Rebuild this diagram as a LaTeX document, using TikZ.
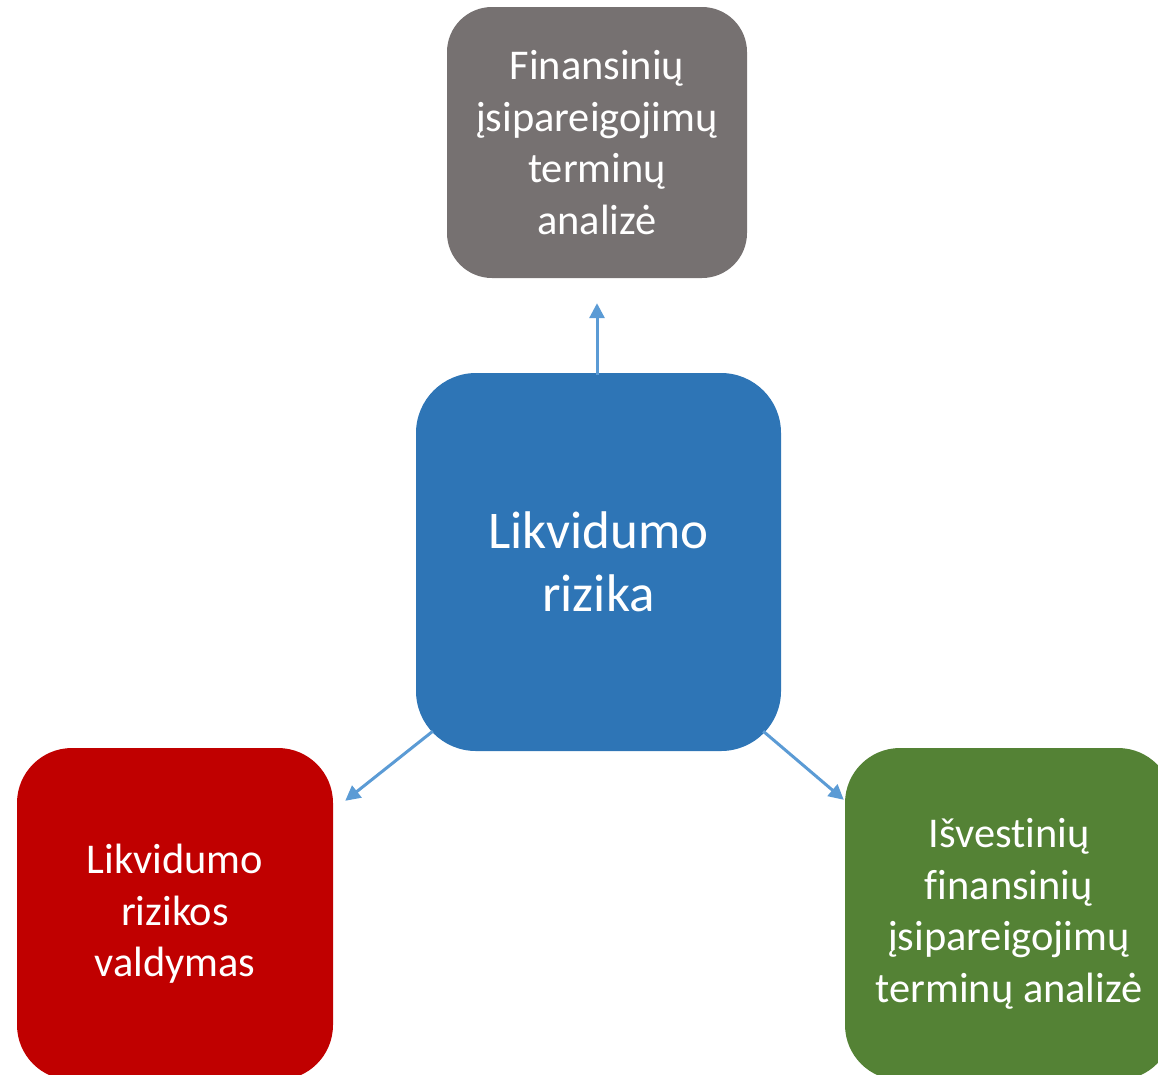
\documentclass[tikz,border=0pt]{standalone}
\usepackage{fontspec}
\setmainfont[RawFeature={-liga;-dlig}]{Carlito}
\usetikzlibrary{arrows.meta,calc}
\definecolor{cgray}{HTML}{767171}
\definecolor{cblue}{HTML}{2E75B6}
\definecolor{cred}{HTML}{C00000}
\definecolor{cgreen}{HTML}{548235}
\definecolor{carrow}{HTML}{5B9BD5}
\begin{document}
\begin{tikzpicture}[x=1pt,y=-1pt,
  box/.style={rectangle,inner sep=0pt,text=white,align=center},
  small/.style={font=\fontsize{42.4}{51.5}\selectfont},
  big/.style={font=\fontsize{53}{63}\selectfont},
  conn/.style={draw=carrow,line width=3pt,-{Triangle[length=15pt,width=15pt]}}]
\useasboundingbox (0,0) rectangle (1158,1074);
\clip (0,0) rectangle (1158,1074);
\node[box,small,fill=cgray,rounded corners=45pt,minimum width=300pt,minimum height=271pt] (g) at (597,142.5)
  {Finansinių\\įsipareigojimų\\terminų\\analizė};
\node[box,big,fill=cblue,rounded corners=60pt,minimum width=365pt,minimum height=378pt] (c) at (598.5,562)
  {Likvidumo\\rizika};
\node[box,small,fill=cred,rounded corners=55pt,minimum width=316pt,minimum height=332pt] (r) at (175,914)
  {Likvidumo\\rizikos\\valdymas};
\node[box,small,fill=cgreen,rounded corners=55pt,minimum width=328pt,minimum height=332pt] (gr) at (1009,914)
  {Išvestinių\\finansinių\\įsipareigojimų\\terminų analizė};
\draw[conn] ([yshift=-2pt]g.south |- c.north) -- ([shift={(0,25)}]g.south);
\draw[conn] ([shift={(17,-20)}]c.south west) -- ([shift={(12,53)}]r.north east);
\draw[conn] ([shift={(-18,-20)}]c.south east) -- ([shift={(-1,52)}]gr.north west);
\end{tikzpicture}
\end{document}
